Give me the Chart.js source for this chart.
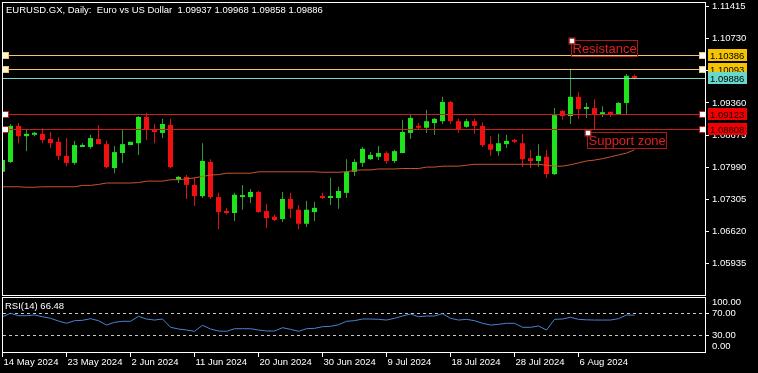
<!DOCTYPE html>
<html>
<head>
<meta charset="utf-8">
<script src="https://cdn.jsdelivr.net/npm/chart.js@4.4.1/dist/chart.umd.min.js"></script>
<style>
  html, body { margin: 0; padding: 0; background: #000; }
  #wrap { position: relative; width: 758px; height: 373px; overflow: hidden; background: #000; }
  #main { position: absolute; left: 0; top: 0; }
  #rsi { position: absolute; left: 0; top: 296px; }
</style>
</head>
<body>
<div id="wrap">
  <canvas id="main" width="758" height="296"></canvas>
  <canvas id="rsi" width="758" height="77"></canvas>
</div>
<script>
// Дневные свечи EURUSD.GX
const open = [
  1.0789, 1.0810, 1.0887, 1.0865, 1.0868, 1.0870, 1.0859, 1.0853, 1.0823, 1.0808,
  1.0842, 1.0842, 1.0859, 1.0848, 1.0797, 1.0829, 1.0846, 1.0850, 1.0906, 1.0880,
  1.0872, 1.0889, 1.0772, 1.0778, 1.0761, 1.0737, 1.0810, 1.0735, 1.0705, 1.0701,
  1.0735, 1.0735, 1.0746, 1.0705, 1.0693, 1.0688, 1.0731, 1.0708, 1.0678, 1.0703,
  1.0737, 1.0733, 1.0733, 1.0744, 1.0789, 1.0808, 1.0816, 1.0821, 1.0829, 1.0812,
  1.0829, 1.0872, 1.0887, 1.0883, 1.0893, 1.0897, 1.0938, 1.0897, 1.0885, 1.0897,
  1.0887, 1.0848, 1.0833, 1.0848, 1.0857, 1.0850, 1.0818, 1.0812, 1.0821, 1.0784,
  1.0919, 1.0908, 1.0949, 1.0923, 1.0925, 1.0912, 1.0917, 1.0912, 1.0936, 1.09937
];
const high = [
  1.0818, 1.0891, 1.0893, 1.0878, 1.0874, 1.0882, 1.0874, 1.0863, 1.0861, 1.0855,
  1.0850, 1.0868, 1.0889, 1.0855, 1.0844, 1.0878, 1.0853, 1.0908, 1.0915, 1.0891,
  1.0902, 1.0902, 1.0780, 1.0782, 1.0776, 1.0850, 1.0816, 1.0744, 1.0712, 1.0744,
  1.0761, 1.0752, 1.0748, 1.0720, 1.0697, 1.0746, 1.0744, 1.0718, 1.0727, 1.0725,
  1.0744, 1.0776, 1.0757, 1.0816, 1.0816, 1.0842, 1.0831, 1.0844, 1.0833, 1.0836,
  1.0900, 1.0912, 1.0893, 1.0921, 1.0904, 1.0949, 1.0940, 1.0902, 1.0902, 1.0902,
  1.0895, 1.0865, 1.0870, 1.0868, 1.0859, 1.0870, 1.0836, 1.0848, 1.0836, 1.0925,
  1.0921, 1.1009, 1.0959, 1.0936, 1.0944, 1.0929, 1.0917, 1.0938, 1.0998, 1.09968
];
const low = [
  1.0784, 1.0808, 1.0850, 1.0833, 1.0865, 1.0850, 1.0840, 1.0814, 1.0801, 1.0804,
  1.0842, 1.0838, 1.0848, 1.0797, 1.0786, 1.0808, 1.0846, 1.0825, 1.0857, 1.0850,
  1.0861, 1.0797, 1.0765, 1.0731, 1.0716, 1.0733, 1.0731, 1.0667, 1.0697, 1.0684,
  1.0708, 1.0722, 1.0701, 1.0669, 1.0684, 1.0682, 1.0690, 1.0667, 1.0671, 1.0684,
  1.0731, 1.0718, 1.0710, 1.0733, 1.0780, 1.0799, 1.0814, 1.0814, 1.0806, 1.0808,
  1.0829, 1.0859, 1.0880, 1.0872, 1.0868, 1.0891, 1.0891, 1.0872, 1.0883, 1.0870,
  1.0842, 1.0823, 1.0823, 1.0840, 1.0850, 1.0799, 1.0797, 1.0799, 1.0776, 1.0782,
  1.0900, 1.0891, 1.0902, 1.0904, 1.0880, 1.0906, 1.0906, 1.0910, 1.0912, 1.09858
];
const close = [
  1.0814, 1.0887, 1.0865, 1.0870, 1.0872, 1.0857, 1.0850, 1.0823, 1.0808, 1.0846,
  1.0846, 1.0861, 1.0848, 1.0799, 1.0831, 1.0848, 1.0853, 1.0906, 1.0880, 1.0874,
  1.0891, 1.0799, 1.0778, 1.0761, 1.0737, 1.0812, 1.0735, 1.0703, 1.0701, 1.0740,
  1.0737, 1.0746, 1.0703, 1.0690, 1.0686, 1.0731, 1.0710, 1.0678, 1.0708, 1.0712,
  1.0733, 1.0735, 1.0748, 1.0789, 1.0810, 1.0838, 1.0825, 1.0829, 1.0812, 1.0833,
  1.0874, 1.0904, 1.0883, 1.0897, 1.0902, 1.0938, 1.0897, 1.0880, 1.0897, 1.0887,
  1.0846, 1.0836, 1.0850, 1.0855, 1.0853, 1.0816, 1.0812, 1.0823, 1.0784, 1.0910,
  1.0908, 1.0949, 1.0923, 1.0925, 1.0912, 1.0915, 1.0912, 1.0936, 1.0994, 1.09886
];
// Скользящая средняя
const maValues = [
  1.0757, 1.0757, 1.0757, 1.0756, 1.0756, 1.0757, 1.0757, 1.0757, 1.0757, 1.0757,
  1.0760, 1.0760, 1.0762, 1.0765, 1.0765, 1.0765, 1.0765, 1.0766, 1.0769, 1.0769,
  1.0769, 1.0772, 1.0772, 1.0774, 1.0776, 1.0779, 1.0782, 1.0783, 1.0786, 1.0786,
  1.0786, 1.0786, 1.0789, 1.0789, 1.0789, 1.0789, 1.0789, 1.0789, 1.0789, 1.0789,
  1.0788, 1.0788, 1.0788, 1.0789, 1.0792, 1.0793, 1.0793, 1.0795, 1.0795, 1.0795,
  1.0796, 1.0796, 1.0796, 1.0799, 1.0799, 1.0801, 1.0801, 1.0801, 1.0803, 1.0805,
  1.0805, 1.0805, 1.0805, 1.0805, 1.0805, 1.0805, 1.0805, 1.0805, 1.0803, 1.0801,
  1.0801, 1.0804, 1.0808, 1.0812, 1.0814, 1.0817, 1.0821, 1.0825, 1.0829, 1.0836
];
// RSI(14)
const rsiValues = [
  63.7, 70.0, 65.6, 65.6, 66.9, 63.7, 60.8, 55.8, 51.6, 56.4,
  57.1, 60.1, 56.4, 48.4, 53.4, 55.3, 55.3, 64.4, 59.5, 57.6,
  59.5, 44.2, 41.1, 39.2, 36.8, 47.9, 41.1, 37.4, 36.8, 41.6,
  41.6, 41.6, 39.2, 37.4, 37.4, 43.5, 40.5, 36.8, 41.6, 42.3,
  45.3, 46.0, 49.0, 55.3, 56.4, 59.5, 59.5, 58.9, 57.6, 60.8,
  65.0, 68.7, 63.7, 65.0, 65.0, 69.3, 60.8, 57.6, 58.9, 56.4,
  51.6, 48.4, 49.7, 51.6, 51.6, 44.2, 44.2, 46.6, 39.2, 58.9,
  59.5, 62.6, 58.9, 58.0, 57.6, 57.6, 57.6, 60.1, 66.9, 66.48
];

const priceTicks = [1.11415, 1.10730, 1.10045, 1.09360, 1.08675, 1.07990, 1.07305, 1.06620, 1.05935];
const levelPrices = [1.10386, 1.10093, 1.09886, 1.09123, 1.08808];
const levelKinds = ['resist', 'resist', 'bid', 'support', 'support'];
const rsiLevels = [70, 30];
const dateLabels = ['14 May 2024', '23 May 2024', '2 Jun 2024', '11 Jun 2024', '20 Jun 2024',
  '30 Jun 2024', '9 Jul 2024', '18 Jul 2024', '28 Jul 2024', '6 Aug 2024'];
const dateBars = [0, 8, 16, 24, 32, 40, 48, 56, 64, 72];
const notes = [
  { text: 'Resistance', bar: 71, price: 1.10704 },
  { text: 'Support zone', bar: 73, price: 1.08740 }
];
const titleText = 'EURUSD.GX, Daily:  Euro vs US Dollar  1.09937 1.09968 1.09858 1.09886';

const X_MIN = 0.0625;
const X_MAX = 87.8125;
const FONT = '"Liberation Sans", Arial, sans-serif';
const SMALL = '9.5px ' + FONT;

const levelStyle = {
  resist:  { line: '#f2c46e', box: '#f5c400', text: '#000', square: '#fff6c8' },
  bid:     { line: '#7fd6c6', box: '#66d8cc', text: '#000', square: null },
  support: { line: '#c81e1e', box: '#f00000', text: '#200000', square: '#ffffff' }
};

const idx = open.map((_, i) => i);
const isUp = i => close[i] >= open[i];

function square(ctx, cx, cy, fill, stroke) {
  ctx.fillStyle = fill;
  ctx.fillRect(cx - 2, cy - 2, 5, 5);
  ctx.strokeStyle = stroke;
  ctx.lineWidth = 1;
  ctx.strokeRect(cx - 2.5, cy - 2.5, 6, 6);
}

const mainDecor = {
  id: 'mainDecor',
  afterDraw(chart) {
    const ctx = chart.ctx;
    const area = chart.chartArea;
    const y = chart.scales.y;
    const x = chart.scales.x;
    ctx.save();
    ctx.setLineDash([]);

    // горизонтальные уровни
    levelPrices.forEach((p, k) => {
      const st = levelStyle[levelKinds[k]];
      const row = Math.round(y.getPixelForValue(p));
      ctx.fillStyle = st.line;
      ctx.fillRect(area.left, row, area.right - area.left, 1);
      if (st.square) {
        square(ctx, 5, row, st.square, st.line);
        square(ctx, 702, row, '#ffffff', st.line);
      }
      // метка цены справа
      ctx.fillStyle = st.box;
      ctx.fillRect(708, row - 6, 39, 12);
      ctx.fillStyle = st.text;
      ctx.font = SMALL;
      ctx.textBaseline = 'middle';
      ctx.textAlign = 'left';
      ctx.fillText(p.toFixed(5), 710, row + 1);
    });

    // надписи
    ctx.font = '13px ' + FONT;
    notes.forEach(n => {
      const nx = Math.round(x.getPixelForValue(n.bar)) + 0.5;
      const ny = Math.round(y.getPixelForValue(n.price)) + 0.5;
      const w = Math.round(ctx.measureText(n.text).width) + 2;
      ctx.strokeStyle = '#b01818';
      ctx.lineWidth = 1;
      ctx.strokeRect(nx, ny, w, 16);
      ctx.fillStyle = '#e02020';
      ctx.textBaseline = 'middle';
      ctx.fillText(n.text, nx + 1, ny + 8.5);
      square(ctx, nx, ny, '#ffffff', '#c81e1e');
    });

    // рамка
    ctx.strokeStyle = '#ffffff';
    ctx.lineWidth = 1;
    ctx.strokeRect(2.5, 2.5, 703, 293);

    ctx.fillStyle = '#ffffff';
    ctx.font = SMALL;
    ctx.textBaseline = 'middle';
    ctx.textAlign = 'left';
    ctx.fillText(titleText, 6, 10);
    ctx.restore();
  }
};

const rsiDecor = {
  id: 'rsiDecor',
  beforeDatasetsDraw(chart) {
    const ctx = chart.ctx;
    const area = chart.chartArea;
    const y = chart.scales.y;
    ctx.save();
    ctx.strokeStyle = '#c8c8c8';
    ctx.lineWidth = 1;
    ctx.setLineDash([3, 3]);
    rsiLevels.forEach(v => {
      const py = Math.round(y.getPixelForValue(v)) + 0.5;
      ctx.beginPath();
      ctx.moveTo(area.left, py);
      ctx.lineTo(area.right, py);
      ctx.stroke();
    });
    ctx.restore();
  },
  afterDraw(chart) {
    const ctx = chart.ctx;
    const x = chart.scales.x;
    ctx.save();
    ctx.strokeStyle = '#ffffff';
    ctx.lineWidth = 1;
    ctx.strokeRect(2.5, 1.5, 703, 55);

    ctx.fillStyle = '#ffffff';
    ctx.font = SMALL;
    ctx.textBaseline = 'middle';
    ctx.textAlign = 'left';
    ctx.fillText('RSI(14) ' + rsiValues[rsiValues.length - 1].toFixed(2), 5, 10);
    ctx.fillText('100.00', 712, 6);
    ctx.fillText('0.00', 712, 50.5);

    // даты
    dateBars.forEach((b, k) => {
      const px = Math.round(x.getPixelForValue(b)) - 0.5;
      ctx.beginPath();
      ctx.moveTo(px, 56);
      ctx.lineTo(px, 61);
      ctx.stroke();
      ctx.fillText(dateLabels[k], px + 1, 66);
    });
    ctx.restore();
  }
};

const noPad = s => { s.width = 53; s.paddingTop = 0; s.paddingBottom = 0; };

new Chart(document.getElementById('main'), {
  type: 'bar',
  data: {
    datasets: [
      {
        type: 'line',
        data: idx.map(i => ({ x: i, y: maValues[i] })),
        borderColor: '#c8552d',
        borderWidth: 1,
        pointRadius: 0,
        tension: 0,
        order: 0
      },
      {
        data: idx.map(i => ({ x: i, y: [open[i], close[i]] })),
        backgroundColor: c => isUp(c.dataIndex) ? '#1ee41e' : '#f01010',
        barThickness: 5,
        minBarLength: 2,
        grouped: false,
        inflateAmount: 0,
        borderWidth: 0,
        order: 1
      },
      {
        data: idx.map(i => ({ x: i, y: [low[i], high[i]] })),
        backgroundColor: c => isUp(c.dataIndex) ? '#2f9a2f' : '#e01010',
        barThickness: 1,
        grouped: false,
        inflateAmount: 0,
        borderWidth: 0,
        order: 2
      }
    ]
  },
  options: {
    responsive: false,
    animation: false,
    events: [],
    layout: { padding: { left: 3, top: 3, right: 0, bottom: 1 } },
    plugins: { legend: { display: false }, tooltip: { enabled: false } },
    scales: {
      x: { type: 'linear', min: X_MIN, max: X_MAX, offset: false, display: false },
      y: {
        position: 'right',
        min: 1.05259,
        max: 1.11494,
        beginAtZero: false,
        afterFit: noPad,
        afterBuildTicks: s => { s.ticks = priceTicks.map(v => ({ value: v })); },
        ticks: { color: '#ffffff', padding: 3, font: { family: FONT, size: 9.5 }, callback: v => v.toFixed(5), autoSkip: false },
        grid: { drawOnChartArea: false, color: '#ffffff', tickLength: 4 },
        border: { color: '#ffffff' }
      }
    }
  },
  plugins: [mainDecor]
});

new Chart(document.getElementById('rsi'), {
  type: 'line',
  data: {
    datasets: [{
      data: idx.map(i => ({ x: i, y: rsiValues[i] })),
      borderColor: '#4b82d4',
      borderWidth: 1,
      pointRadius: 0,
      tension: 0
    }]
  },
  options: {
    responsive: false,
    animation: false,
    events: [],
    layout: { padding: { left: 3, top: 2, right: 0, bottom: 21 } },
    plugins: { legend: { display: false }, tooltip: { enabled: false } },
    scales: {
      x: { type: 'linear', min: X_MIN, max: X_MAX, display: false },
      y: {
        position: 'right',
        min: -1.3,
        max: 98.2,
        afterFit: noPad,
        afterBuildTicks: s => { s.ticks = rsiLevels.map(v => ({ value: v })); },
        ticks: { color: '#ffffff', padding: 3, font: { family: FONT, size: 9.5 }, callback: v => v.toFixed(2), autoSkip: false },
        grid: { drawOnChartArea: false, color: '#ffffff', tickLength: 4 },
        border: { color: '#ffffff' }
      }
    }
  },
  plugins: [rsiDecor]
});
</script>
</body>
</html>
